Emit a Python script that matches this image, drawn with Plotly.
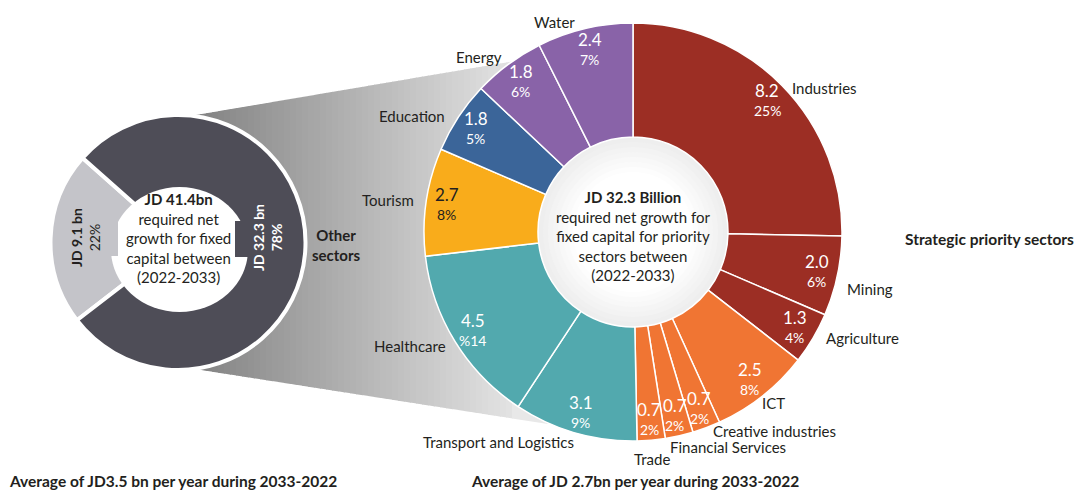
import math
import plotly.graph_objects as go

W, H = 1079, 490

# ---------------- data ----------------
sectors = ["Industries", "Mining", "Agriculture", "ICT", "Creative industries",
           "Financial Services", "Trade", "Transport and Logistics", "Healthcare",
           "Tourism", "Education", "Energy", "Water"]
investment_bn = [8.2, 2.0, 1.3, 2.5, 0.7, 0.7, 0.7, 3.1, 4.5, 2.7, 1.8, 1.8, 2.4]
share_labels = ["25%", "6%", "4%", "8%", "2%", "2%", "2%", "9%", "%14", "8%", "5%", "6%", "7%"]

overall_groups = ["JD 9.1 bn", "JD 32.3 bn"]
overall_values = [9.1, 32.3]
overall_share = ["22%", "78%"]

# ---------------- styles ----------------
sector_colors = ["#9c2e24", "#9c2e24", "#9c2e24", "#f07533", "#f07533", "#f07533", "#f07533",
                 "#52a9ae", "#52a9ae", "#f9ac1b", "#3b6599", "#8963a8", "#8963a8"]
value_text_colors = ["white"] * 9 + ["#231f20"] + ["white"] * 3
overall_colors = ["#c4c4c9", "#4e4d57"]
FONT = "Lato"
INK = "#231f20"

# category label anchor positions (pixels)
label_pos = [(824, 88), (870, 289), (862, 338), (773, 403), (775, 431), (728, 447),
             (652, 459), (498, 442), (410, 346), (388, 200), (412, 116), (479, 57), (554, 22)]

# geometry (pixels)
RC = (633, 232); RR = 209; RHOLE = 95
LC = (178, 242.5); LR = 127.5


def px(x):
    return x / W


def py(y):
    return 1 - y / H


def ann(x, y, text, size=14, color=INK, angle=0, xanchor="center"):
    return dict(x=px(x), y=py(y), xref="paper", yref="paper", text=text, showarrow=False,
                font=dict(family=FONT, size=size, color=color), xanchor=xanchor,
                yanchor="middle", textangle=angle)


fig = go.Figure()

# right donut (strategic priority sectors)
fig.add_trace(go.Pie(
    labels=sectors, values=investment_bn, sort=False, direction="clockwise", rotation=0,
    hole=RHOLE / RR, textinfo="none", hoverinfo="none", showlegend=False,
    marker=dict(colors=sector_colors, line=dict(color="white", width=1.5)),
    domain=dict(x=[px(RC[0] - RR), px(RC[0] + RR)], y=[py(RC[1] + RR), py(RC[1] - RR)]),
))

# left donut (overall)
fig.add_trace(go.Pie(
    labels=overall_groups, values=overall_values, sort=False, direction="clockwise",
    rotation=272 - overall_values[0] / sum(overall_values) * 180,
    hole=0.35, textinfo="none", hoverinfo="none", showlegend=False,
    marker=dict(colors=overall_colors, line=dict(color="white", width=4)),
    domain=dict(x=[px(LC[0] - LR), px(LC[0] + LR)], y=[py(LC[1] + LR), py(LC[1] - LR)]),
))

shapes = []

# funnel with horizontal gradient (below the pies)
T0, T1 = (190, 116), (512, 61.5)
B0, B1 = (188, 368), (548, 424)


def top(x):
    return T0[1] + (T1[1] - T0[1]) * (x - T0[0]) / (T1[0] - T0[0])


def bot(x):
    return B0[1] + (B1[1] - B0[1]) * (x - B0[0]) / (B1[0] - B0[0])


def grad(x):
    t = max(0.0, min(1.0, (x - 188) / (548 - 188)))
    c0, c1 = 128, 238
    v = int(round(c0 + (c1 - c0) * t))
    return f"rgb({v},{v},{v})"


xs = [188 + 6 * i for i in range(55)]
xs[-1] = 512
for xa, xb in zip(xs[:-1], xs[1:]):
    xe = xb + 0.8
    path = (f"M {px(xa)} {py(top(xa))} L {px(xe)} {py(top(xe))} "
            f"L {px(xe)} {py(bot(xe))} L {px(xa)} {py(bot(xa))} Z")
    shapes.append(dict(type="path", path=path, xref="paper", yref="paper",
                       fillcolor=grad((xa + xb) / 2), line=dict(width=0), layer="below"))
path = f"M {px(512)} {py(T1[1])} L {px(B1[0])} {py(B1[1])} L {px(512)} {py(bot(512))} Z"
shapes.append(dict(type="path", path=path, xref="paper", yref="paper",
                   fillcolor=grad(530), line=dict(width=0), layer="below"))

# soft radial shading of the right donut's centre
for i in range(12):
    r = RHOLE - i * 5
    t = i / 11
    v = int(round(238 + (255 - 238) * min(1, t * 1.6)))
    shapes.append(dict(type="circle", xref="paper", yref="paper",
                       x0=px(RC[0] - r), x1=px(RC[0] + r), y0=py(RC[1] + r), y1=py(RC[1] - r),
                       fillcolor=f"rgb({v},{v},{v})", line=dict(width=0), layer="below"))

# left donut centre and tabs (above)
shapes.append(dict(type="circle", xref="paper", yref="paper", x0=px(111), x1=px(248),
                   y0=py(312), y1=py(187), fillcolor="white", line=dict(width=0), layer="above"))
shapes.append(dict(type="rect", xref="paper", yref="paper", x0=px(235), x1=px(252),
                   y0=py(257), y1=py(221), fillcolor=overall_colors[1], line=dict(width=0), layer="above"))
shapes.append(dict(type="rect", xref="paper", yref="paper", x0=px(106), x1=px(118),
                   y0=py(256), y1=py(221), fillcolor=overall_colors[0], line=dict(width=0), layer="above"))

annotations = []

# value / share labels inside right donut slices
total = sum(investment_bn)
cum = 0.0
for v, s, col in zip(investment_bn, share_labels, value_text_colors):
    mid = (cum + v / 2) / total * 2 * math.pi
    cum += v
    ax = RC[0] + 188 * math.sin(mid)
    ay = RC[1] - 188 * math.cos(mid)
    annotations.append(ann(ax, ay - 10, f"{v:.1f}", size=17, color=col))
    annotations.append(ann(ax, ay + 10, s, size=14, color=col))

# category names
for name, (x, y) in zip(sectors, label_pos):
    annotations.append(ann(x, y, name, size=15))

# centre texts
annotations.append(ann(178, 238, "<b>JD 41.4bn</b><br>required net<br>growth for fixed<br>capital between<br>(2022-2033)", size=15))
annotations.append(ann(RC[0], 236, "<b>JD 32.3 Billion</b><br>required net growth for<br>fixed capital for priority<br>sectors between<br>(2022-2033)", size=15))

# left donut labels (rotated)
annotations.append(ann(267, 238, f"<b>{overall_groups[1]}<br>{overall_share[1]}</b>", size=14, color="white", angle=-90))
annotations.append(ann(85, 238, f"<b>{overall_groups[0]}</b><br>{overall_share[0]}", size=14, color=INK, angle=-90))

annotations.append(ann(310, 245, "<b>Other<br>sectors</b>", size=15, xanchor="left"))
annotations.append(ann(989, 239, "<b>Strategic priority sectors</b>", size=15.5))
annotations.append(ann(7, 481, "<b>Average of JD3.5 bn per year during 2033-2022</b>", size=15.5, xanchor="left"))
annotations.append(ann(469, 481, "<b>Average of JD 2.7bn per year during 2033-2022</b>", size=15.5, xanchor="left"))

fig.update_layout(
    width=W, height=H, margin=dict(l=0, r=0, t=0, b=0),
    paper_bgcolor="white", plot_bgcolor="white",
    shapes=shapes, annotations=annotations, showlegend=False,
    font=dict(family=FONT, color=INK),
)

fig.write_html("out.html", config={"displayModeBar": False},
               post_script="document.body.style.margin='0';document.body.style.padding='0';")
